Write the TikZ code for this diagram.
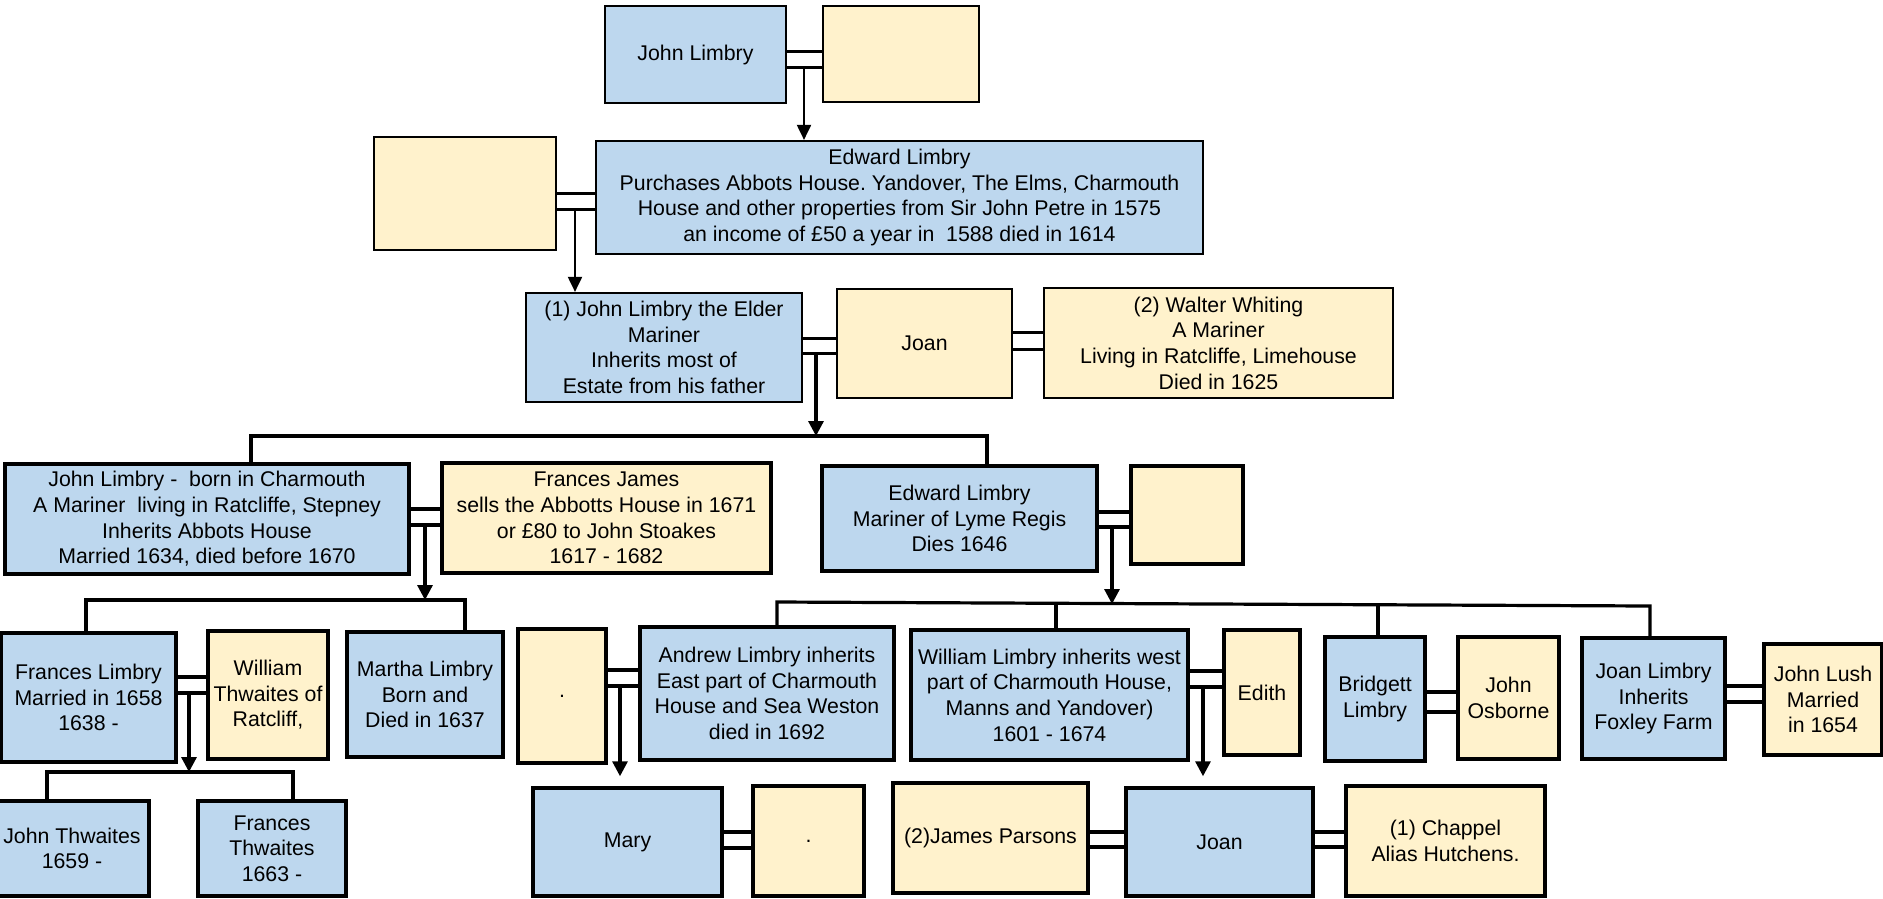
\documentclass[tikz,border=0pt]{standalone}
\usepackage{fontspec}
\setmainfont{Liberation Sans}
\usetikzlibrary{arrows.meta}
\definecolor{pblue}{HTML}{BDD7EE}
\definecolor{pyel}{HTML}{FFF2CC}
\newcommand\boxfont{\fontsize{21.3}{25.6}\selectfont\frenchspacing}
\begin{document}
\begin{tikzpicture}[x=1pt,y=-1pt,
  bx/.style={draw=black, inner sep=0pt, align=center, font=\boxfont},
  pb/.style={bx, fill=pblue},
  py/.style={bx, fill=pyel},
  lwa/.style={line width=2.2pt},
  lwb/.style={line width=3.5pt},
  mara/.style={line width=3pt},
  marb/.style={line width=4pt},
  arra/.style={line width=2pt, -{Triangle[length=15pt,width=14pt]}},
  arrb/.style={line width=3.2pt, -{Triangle[length=15pt,width=15pt]}},
  brk/.style={line width=3.2pt}
]
\useasboundingbox (0,0) rectangle (1883,898);
\clip (0,0) rectangle (1883,898);
\fill[white] (0,0) rectangle (1883,898);

% ---------- row 1
\node[pb,lwa,minimum width=181pt,minimum height=97pt] (jl) at (695.5,54.5) {John Limbry};
\node[py,lwa,minimum width=156pt,minimum height=96pt] (jlw) at (901,54) {};
% ---------- row 2
\node[py,lwa,minimum width=182pt,minimum height=113pt] (elw) at (465,193.5) {};
\node[pb,lwa,minimum width=607pt,minimum height=113pt] (el) at (899.5,197.5)
  {Edward Limbry\\Purchases Abbots House. Yandover, The Elms, Charmouth\\House and other properties from Sir John Petre in 1575\\an income of £50 a year in~ 1588 died in 1614};
% ---------- row 3
\node[pb,lwa,minimum width=276pt,minimum height=109pt] (jle) at (664,347.5)
  {(1) John Limbry the Elder\\Mariner\\Inherits most of\\Estate from his father};
\node[py,lwa,minimum width=175pt,minimum height=109pt] (joan) at (924.5,343.5) {Joan};
\node[py,lwa,minimum width=349pt,minimum height=110pt] (ww) at (1218.5,343)
  {(2) Walter Whiting\\A Mariner\\Living in Ratcliffe, Limehouse\\Died in 1625};
% ---------- row 4
\node[pb,lwb,minimum width=404pt,minimum height=110pt] (jc) at (207,519)
  {John Limbry -~ born in Charmouth\\A Mariner~ living in Ratcliffe, Stepney\\Inherits Abbots House\\Married 1634, died before 1670};
\node[py,lwb,minimum width=329pt,minimum height=110pt] (fj) at (606.5,518)
  {Frances James\\sells the Abbotts House in 1671\\or £80 to John Stoakes\\1617 - 1682};
\node[pb,lwb,minimum width=275pt,minimum height=105pt] (edl) at (959.5,518.5)
  {Edward Limbry\\Mariner of Lyme Regis\\Dies 1646};
\node[py,lwb,minimum width=112pt,minimum height=98pt] (edlw) at (1187,515) {};
% ---------- row 5
\node[pb,lwb,minimum width=175pt,minimum height=129pt] (fl) at (88.5,697.5)
  {Frances Limbry\\Married in 1658\\1638 -};
\node[py,lwb,minimum width=120pt,minimum height=128pt] (wt) at (268,695)
  {William\\Thwaites of\\Ratcliff,};
\node[pb,lwb,minimum width=156pt,minimum height=125pt] (ml) at (425,694.5)
  {Martha Limbry\\Born and\\Died in 1637};
\node[py,lwb,minimum width=88pt,minimum height=134pt] (aw) at (562,696) {.};
\node[pb,lwb,minimum width=254pt,minimum height=133pt] (al) at (767,693.5)
  {Andrew Limbry inherits\\East part of Charmouth\\House and Sea Weston\\died in 1692};
\node[pb,lwb,minimum width=277pt,minimum height=130pt] (wl) at (1049.5,695)
  {William Limbry inherits west\\part of Charmouth House,\\Manns and Yandover)\\1601 - 1674};
\node[py,lwb,minimum width=76pt,minimum height=125pt] (ed) at (1262,692.5) {Edith};
\node[pb,lwb,minimum width=100pt,minimum height=124pt] (bl) at (1375,699) {Bridgett\\Limbry};
\node[py,lwb,minimum width=101pt,minimum height=122pt] (jo) at (1508.5,698) {John\\Osborne};
\node[pb,lwb,minimum width=143pt,minimum height=121pt] (jnl) at (1653.5,698.5)
  {Joan Limbry\\Inherits\\Foxley Farm};
\node[py,lwb,minimum width=118pt,minimum height=111pt] (jlu) at (1823,699.5)
  {John Lush\\Married\\in 1654};
% ---------- row 6
\node[pb,lwb,minimum width=154pt,minimum height=95pt] (jt) at (72,848.5) {John Thwaites\\1659 -};
\node[pb,lwb,minimum width=148pt,minimum height=95pt] (ft) at (272,848.5) {Frances\\Thwaites\\1663 -};
\node[pb,lwb,minimum width=189pt,minimum height=108pt] (mary) at (627.5,842) {Mary};
\node[py,lwb,minimum width=111pt,minimum height=110pt] (maryw) at (808.5,841) {.};
\node[py,lwb,minimum width=195pt,minimum height=110pt] (jp) at (990.5,838) {(2)James Parsons};
\node[pb,lwb,minimum width=187pt,minimum height=108pt] (jn) at (1219.5,842) {Joan};
\node[py,lwb,minimum width=199pt,minimum height=110pt] (ch) at (1445.5,841) {(1) Chappel\\Alias Hutchens.};

% ---------- marriage symbols
\newcommand\marr[5]{%
  \draw[#5] (#1.east |- 0,#3) -- (#2.west |- 0,#3);
  \draw[#5] (#1.east |- 0,#4) -- (#2.west |- 0,#4);}
\marr{jl}{jlw}{51}{67}{mara}
\marr{elw}{el}{193}{209}{mara}
\marr{jle}{joan}{338}{353}{mara}
\marr{joan}{ww}{332}{349}{mara}
\marr{jc}{fj}{509}{525}{marb}
\marr{edl}{edlw}{512}{527}{marb}
\marr{fl}{wt}{677}{693}{marb}
\marr{aw}{al}{670}{686}{marb}
\marr{wl}{ed}{671}{687}{marb}
\marr{bl}{jo}{692}{712}{marb}
\marr{jnl}{jlu}{686}{702}{marb}
\marr{mary}{maryw}{832}{848}{marb}
\marr{jp}{jn}{832}{847}{marb}
\marr{jn}{ch}{832}{847}{marb}

% ---------- descent arrows
\coordinate (d1) at (804,69);
\draw[arra] (d1) -- (d1 |- el.north);
\coordinate (d2) at (575,211);
\draw[arra] (d2) -- (d2 |- jle.north);

% children of John the Elder
\coordinate (d3) at (816,355);
\coordinate (k3) at (816,436);
\coordinate (k3l) at (251,436);
\coordinate (k3r) at (987,436);
\draw[arrb] (d3) -- (k3);
\draw[brk] (k3l |- jc.north) -- (k3l) -- (k3r) -- (k3r |- edl.north);

% children of John (Charmouth)
\coordinate (d4) at (425,527);
\coordinate (k4) at (425,600);
\coordinate (k4l) at (86,600);
\coordinate (k4r) at (465,600);
\draw[arrb] (d4) -- (k4);
\draw[brk] (k4l |- fl.north) -- (k4l) -- (k4r) -- (k4r |- ml.north);

% children of Frances Limbry
\coordinate (d5) at (189,695);
\coordinate (k5) at (189,772);
\coordinate (k5l) at (47,772);
\coordinate (k5r) at (293,772);
\draw[arrb] (d5) -- (k5);
\draw[brk] (k5l |- jt.north) -- (k5l) -- (k5r) -- (k5r |- ft.north);

% children of Edward of Lyme Regis
\coordinate (d6) at (1112,529);
\coordinate (k6) at (1112,604);
\coordinate (k6l) at (777,602);
\coordinate (k6r) at (1650,606);
\coordinate (k6w) at (1056,603.5);
\coordinate (k6b) at (1378,605);
\draw[arrb] (d6) -- (k6);
\draw[brk] (k6l |- al.north) -- (k6l) -- (k6r) -- (k6r |- jnl.north);
\draw[brk] (k6w) -- (k6w |- wl.north);
\draw[brk] (k6b) -- (k6b |- bl.north);

% children of Andrew and of William
\coordinate (d7) at (620,688);
\draw[arrb, shorten >=10pt] (d7) -- (d7 |- mary.north);
\coordinate (d8) at (1203,689);
\draw[arrb, shorten >=10pt] (d8) -- (d8 |- jn.north);
\end{tikzpicture}
\end{document}
